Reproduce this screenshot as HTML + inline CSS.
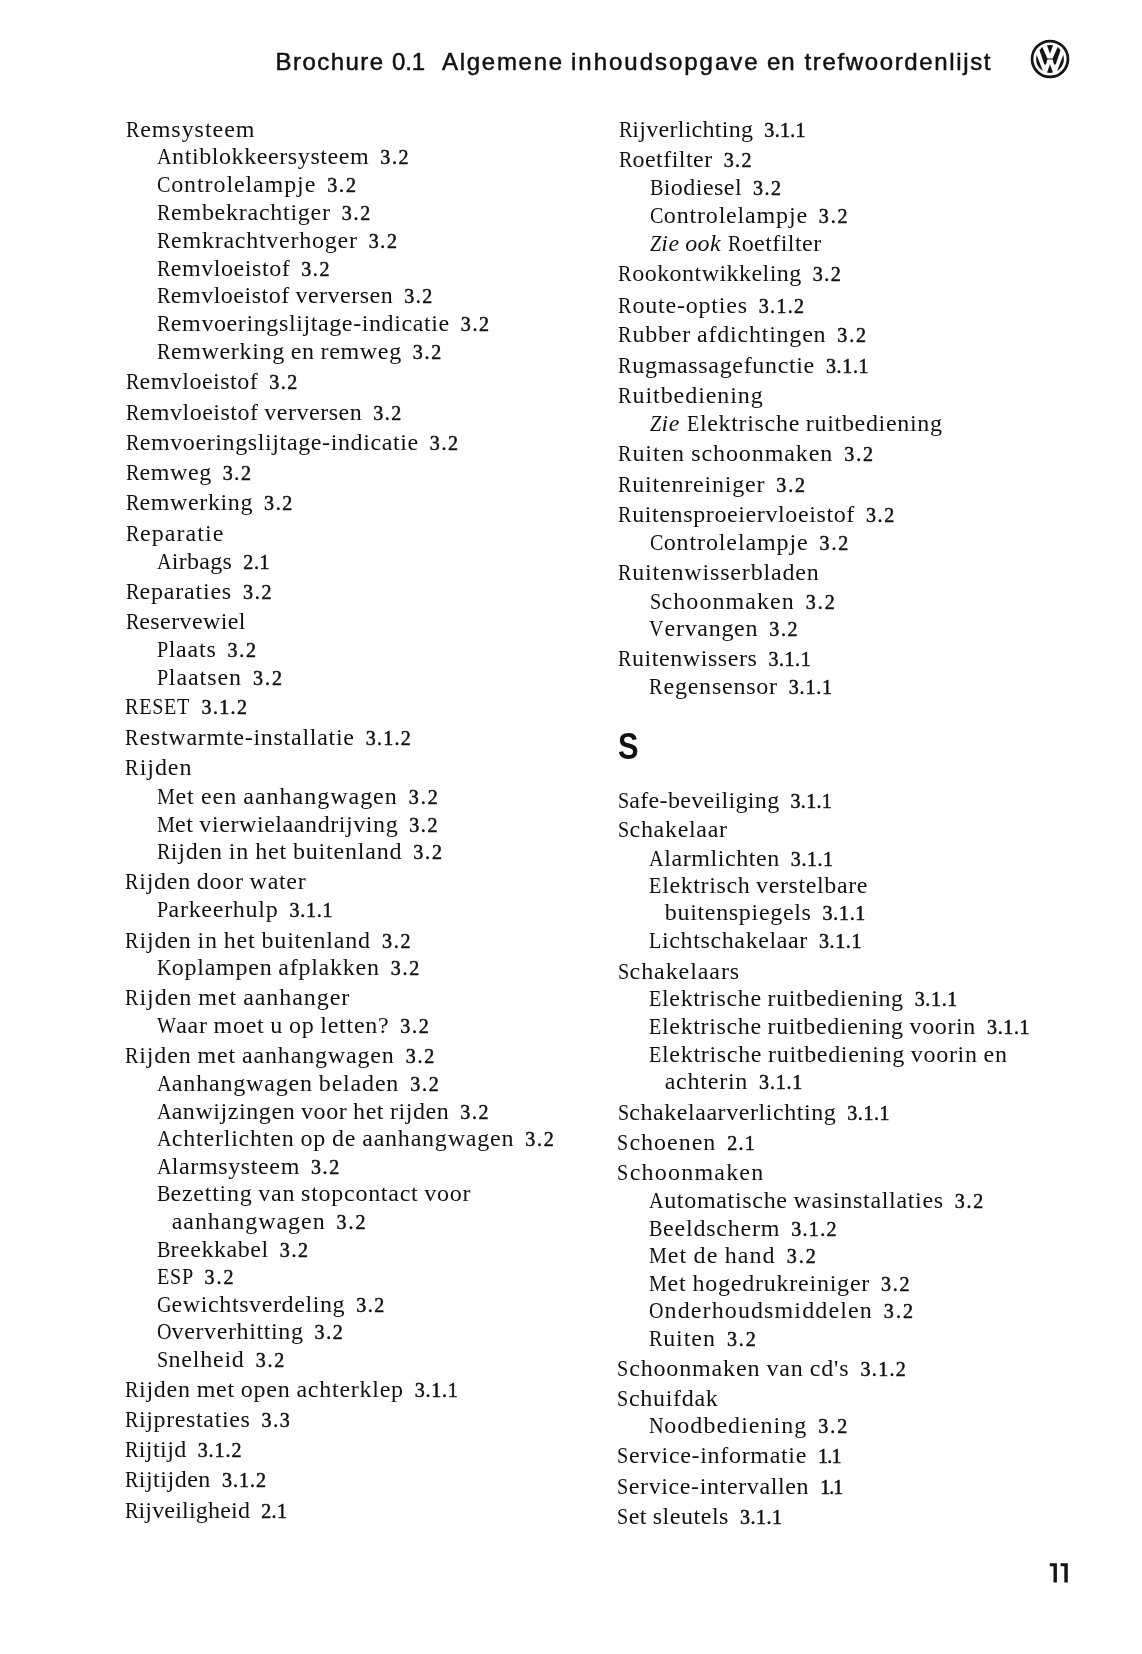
<!DOCTYPE html>
<html><head><meta charset="utf-8">
<style>
html,body{margin:0;padding:0;background:#fff;}
body{width:1142px;height:1654px;position:relative;overflow:hidden;font-family:"Liberation Serif",serif;color:#111;}
.l{position:absolute;white-space:nowrap;font-size:24px;line-height:28px;height:28px;word-spacing:-0.8px;}
.l b{font-weight:normal;display:inline-block;transform:scaleX(0.84);transform-origin:0 50%;}
.l .n{margin-left:11px;font-size:20px;word-spacing:0;-webkit-text-stroke:0.5px #111;}
.l i{margin-right:1px;}
.h{position:absolute;white-space:nowrap;font-family:"Liberation Sans",sans-serif;font-size:24px;line-height:30px;top:46.5px;-webkit-text-stroke:0.5px #111;}
.S{position:absolute;left:617.6px;top:723.9px;font-family:"Liberation Sans",sans-serif;font-weight:bold;font-size:37.5px;line-height:44px;transform:scaleX(0.82);transform-origin:0 0;}
.pn{position:absolute;left:1040px;top:1555px;width:40px;height:36px;}
.logo{position:absolute;left:1030.4px;top:38.5px;width:40px;height:40px;}
#pg{position:absolute;left:0;top:0;width:1142px;height:1654px;background:#fff;filter:grayscale(1) blur(0.35px);}
</style></head><body><div id="pg">
<div class="h" id="h0" style="left:275.50px;letter-spacing:1.457px">Brochure</div>
<div class="h" id="h1" style="left:392.00px;letter-spacing:-0.100px">0.1</div>
<div class="h" id="h2" style="left:442.00px;letter-spacing:1.714px">Algemene</div>
<div class="h" id="h3" style="left:571.00px;letter-spacing:1.983px">inhoudsopgave</div>
<div class="h" id="h4" style="left:767.00px;letter-spacing:0.800px">en</div>
<div class="h" id="h5" style="left:804.50px;letter-spacing:1.640px">trefwoordenlijst</div>
<svg class="logo" viewBox="-20 -20 40 40">
<defs><clipPath id="ci"><circle cx="0" cy="0" r="13.9"/></clipPath></defs>
<circle cx="0" cy="0" r="17.95" fill="none" stroke="#151515" stroke-width="2.75"/>
<g clip-path="url(#ci)" fill="#151515">
<path d="M-3.5,-15 L3.5,-15 L0,-5.2 Z"/>
<path d="M0,5.3 L3.5,15 L-3.5,15 Z"/>
<path d="M-11.8,-12.5 L-8.5,-14 L-2.6,-0.6 L2.6,-0.6 L8.5,-14 L11.8,-12.5 L5.7,5.4 L4.1,5.4 L2.6,0.5 L-2.6,0.5 L-4.1,5.4 L-5.7,5.4 Z"/>
<path d="M-13.3,-4 L-6.5,13.5 L-17,13.5 L-17,-4 Z"/>
<path d="M13.3,-4 L6.5,13.5 L17,13.5 L17,-4 Z"/>
</g>
</svg>
<div class="S">S</div>
<svg class="pn" viewBox="1040 1555 40 36"><path fill="#151515" d="M1053.5,1563.2h3.4v19.2h-3.4z M1049.8,1563.2h4v3.1h-4z M1064.3,1563.2h3.5v19.2h-3.5z M1060.6,1563.2h4v3.1h-4z"/></svg>
<div class="l" id="l0_0" style="left:125.9px;top:115.10px;letter-spacing:0.956px"><b style="margin-right:-2.72px">R</b>emsysteem</div>
<div class="l" id="l0_1" style="left:157.0px;top:142.20px;letter-spacing:0.590px"><b style="margin-right:-2.87px">A</b>ntiblokkeersysteem<span class="n" style="letter-spacing:1.590px">3.2</span></div>
<div class="l" id="l0_2" style="left:157.0px;top:170.20px;letter-spacing:0.900px"><b style="margin-right:-2.71px">C</b>ontrolelampje<span class="n" style="letter-spacing:1.900px">3.2</span></div>
<div class="l" id="l0_3" style="left:157.0px;top:197.80px;letter-spacing:0.741px"><b style="margin-right:-2.68px">R</b>embekrachtiger<span class="n" style="letter-spacing:1.741px">3.2</span></div>
<div class="l" id="l0_4" style="left:157.0px;top:225.80px;letter-spacing:0.747px"><b style="margin-right:-2.68px">R</b>emkrachtverhoger<span class="n" style="letter-spacing:1.747px">3.2</span></div>
<div class="l" id="l0_5" style="left:156.9px;top:253.80px;letter-spacing:0.557px"><b style="margin-right:-2.65px">R</b>emvloeistof<span class="n" style="letter-spacing:1.557px">3.2</span></div>
<div class="l" id="l0_6" style="left:156.9px;top:281.40px;letter-spacing:0.508px"><b style="margin-right:-2.64px">R</b>emvloeistof verversen<span class="n" style="letter-spacing:1.508px">3.2</span></div>
<div class="l" id="l0_7" style="left:156.9px;top:309.00px;letter-spacing:0.607px"><b style="margin-right:-2.66px">R</b>emvoeringslijtage-indicatie<span class="n" style="letter-spacing:1.607px">3.2</span></div>
<div class="l" id="l0_8" style="left:156.9px;top:336.75px;letter-spacing:0.664px"><b style="margin-right:-2.67px">R</b>emwerking en remweg<span class="n" style="letter-spacing:1.664px">3.2</span></div>
<div class="l" id="l0_9" style="left:125.7px;top:366.95px;letter-spacing:0.486px"><b style="margin-right:-2.64px">R</b>emvloeistof<span class="n" style="letter-spacing:1.486px">3.2</span></div>
<div class="l" id="l0_10" style="left:125.7px;top:397.65px;letter-spacing:0.517px"><b style="margin-right:-2.65px">R</b>emvloeistof verversen<span class="n" style="letter-spacing:1.517px">3.2</span></div>
<div class="l" id="l0_11" style="left:125.7px;top:427.75px;letter-spacing:0.613px"><b style="margin-right:-2.66px">R</b>emvoeringslijtage-indicatie<span class="n" style="letter-spacing:1.613px">3.2</span></div>
<div class="l" id="l0_12" style="left:125.6px;top:457.55px;letter-spacing:0.575px"><b style="margin-right:-2.65px">R</b>emweg<span class="n" style="letter-spacing:1.575px">3.2</span></div>
<div class="l" id="l0_13" style="left:125.6px;top:487.90px;letter-spacing:0.617px"><b style="margin-right:-2.66px">R</b>emwerking<span class="n" style="letter-spacing:1.617px">3.2</span></div>
<div class="l" id="l0_14" style="left:125.6px;top:518.70px;letter-spacing:1.075px"><b style="margin-right:-2.73px">R</b>eparatie</div>
<div class="l" id="l0_15" style="left:156.8px;top:546.70px;letter-spacing:0.333px"><b style="margin-right:-2.83px">A</b>irbags<span class="n" style="letter-spacing:0.583px">2.1</span></div>
<div class="l" id="l0_16" style="left:125.5px;top:577.15px;letter-spacing:0.783px"><b style="margin-right:-2.69px">R</b>eparaties<span class="n" style="letter-spacing:1.783px">3.2</span></div>
<div class="l" id="l0_17" style="left:125.5px;top:607.05px;letter-spacing:0.400px"><b style="margin-right:-2.63px">R</b>eservewiel</div>
<div class="l" id="l0_18" style="left:156.8px;top:634.95px;letter-spacing:0.775px"><b style="margin-right:-2.26px">P</b>laats<span class="n" style="letter-spacing:1.775px">3.2</span></div>
<div class="l" id="l0_19" style="left:156.8px;top:662.55px;letter-spacing:0.940px"><b style="margin-right:-2.29px">P</b>laatsen<span class="n" style="letter-spacing:1.940px">3.2</span></div>
<div class="l" id="l0_20" style="left:125.4px;top:692.25px;letter-spacing:0.844px"><b style="margin-right:-12.41px">RESET</b><span class="n" style="letter-spacing:1.344px">3.1.2</span></div>
<div class="l" id="l0_21" style="left:125.4px;top:723.20px;letter-spacing:0.731px"><b style="margin-right:-2.68px">R</b>estwarmte-installatie<span class="n" style="letter-spacing:1.231px">3.1.2</span></div>
<div class="l" id="l0_22" style="left:125.4px;top:753.15px;letter-spacing:0.960px"><b style="margin-right:-2.72px">R</b>ijden</div>
<div class="l" id="l0_23" style="left:156.7px;top:781.60px;letter-spacing:0.982px"><b style="margin-right:-3.57px">M</b>et een aanhangwagen<span class="n" style="letter-spacing:1.982px">3.2</span></div>
<div class="l" id="l0_24" style="left:156.7px;top:809.65px;letter-spacing:0.576px"><b style="margin-right:-3.51px">M</b>et vierwielaandrijving<span class="n" style="letter-spacing:1.576px">3.2</span></div>
<div class="l" id="l0_25" style="left:156.7px;top:836.75px;letter-spacing:0.808px"><b style="margin-right:-2.69px">R</b>ijden in het buitenland<span class="n" style="letter-spacing:1.808px">3.2</span></div>
<div class="l" id="l0_26" style="left:125.3px;top:867.20px;letter-spacing:0.713px"><b style="margin-right:-2.68px">R</b>ijden door water</div>
<div class="l" id="l0_27" style="left:156.7px;top:895.20px;letter-spacing:0.733px"><b style="margin-right:-2.25px">P</b>arkeerhulp<span class="n" style="letter-spacing:0.733px">3.1.1</span></div>
<div class="l" id="l0_28" style="left:125.3px;top:925.50px;letter-spacing:0.808px"><b style="margin-right:-2.69px">R</b>ijden in het buitenland<span class="n" style="letter-spacing:1.808px">3.2</span></div>
<div class="l" id="l0_29" style="left:156.6px;top:953.30px;letter-spacing:0.743px"><b style="margin-right:-2.89px">K</b>oplampen afplakken<span class="n" style="letter-spacing:1.743px">3.2</span></div>
<div class="l" id="l0_30" style="left:125.2px;top:983.10px;letter-spacing:0.937px"><b style="margin-right:-2.71px">R</b>ijden met aanhanger</div>
<div class="l" id="l0_31" style="left:156.6px;top:1010.90px;letter-spacing:0.717px"><b style="margin-right:-3.74px">W</b>aar moet u op letten?<span class="n" style="letter-spacing:1.717px">3.2</span></div>
<div class="l" id="l0_32" style="left:125.2px;top:1041.10px;letter-spacing:0.832px"><b style="margin-right:-2.70px">R</b>ijden met aanhangwagen<span class="n" style="letter-spacing:1.832px">3.2</span></div>
<div class="l" id="l0_33" style="left:156.6px;top:1068.50px;letter-spacing:0.818px"><b style="margin-right:-2.90px">A</b>anhangwagen beladen<span class="n" style="letter-spacing:1.818px">3.2</span></div>
<div class="l" id="l0_34" style="left:156.6px;top:1096.60px;letter-spacing:0.573px"><b style="margin-right:-2.86px">A</b>anwijzingen voor het rijden<span class="n" style="letter-spacing:1.573px">3.2</span></div>
<div class="l" id="l0_35" style="left:156.6px;top:1124.40px;letter-spacing:0.782px"><b style="margin-right:-2.90px">A</b>chterlichten op de aanhangwagen<span class="n" style="letter-spacing:1.782px">3.2</span></div>
<div class="l" id="l0_36" style="left:156.6px;top:1151.70px;letter-spacing:0.629px"><b style="margin-right:-2.87px">A</b>larmsysteem<span class="n" style="letter-spacing:1.629px">3.2</span></div>
<div class="l" id="l0_37" style="left:156.5px;top:1179.30px;letter-spacing:0.731px"><b style="margin-right:-2.68px">B</b>ezetting van stopcontact voor</div>
<div class="l" id="l0_38" style="left:171.7px;top:1206.90px;letter-spacing:0.943px">aanhangwagen<span class="n" style="letter-spacing:1.943px">3.2</span></div>
<div class="l" id="l0_39" style="left:156.5px;top:1234.50px;letter-spacing:0.567px"><b style="margin-right:-2.65px">B</b>reekkabel<span class="n" style="letter-spacing:1.567px">3.2</span></div>
<div class="l" id="l0_40" style="left:156.5px;top:1261.60px;letter-spacing:0.920px"><b style="margin-right:-7.06px">ESP</b><span class="n" style="letter-spacing:1.920px">3.2</span></div>
<div class="l" id="l0_41" style="left:156.5px;top:1289.70px;letter-spacing:0.600px"><b style="margin-right:-2.87px">G</b>ewichtsverdeling<span class="n" style="letter-spacing:1.600px">3.2</span></div>
<div class="l" id="l0_42" style="left:156.5px;top:1316.90px;letter-spacing:0.613px"><b style="margin-right:-2.87px">O</b>ververhitting<span class="n" style="letter-spacing:1.613px">3.2</span></div>
<div class="l" id="l0_43" style="left:156.5px;top:1344.60px;letter-spacing:0.800px"><b style="margin-right:-2.26px">S</b>nelheid<span class="n" style="letter-spacing:1.800px">3.2</span></div>
<div class="l" id="l0_44" style="left:124.9px;top:1374.90px;letter-spacing:0.747px"><b style="margin-right:-2.68px">R</b>ijden met open achterklep<span class="n" style="letter-spacing:0.747px">3.1.1</span></div>
<div class="l" id="l0_45" style="left:124.9px;top:1405.40px;letter-spacing:0.640px"><b style="margin-right:-2.66px">R</b>ijprestaties<span class="n" style="letter-spacing:1.640px">3.3</span></div>
<div class="l" id="l0_46" style="left:124.9px;top:1435.10px;letter-spacing:0.436px"><b style="margin-right:-2.63px">R</b>ijtijd<span class="n" style="letter-spacing:0.936px">3.1.2</span></div>
<div class="l" id="l0_47" style="left:124.8px;top:1464.90px;letter-spacing:0.523px"><b style="margin-right:-2.65px">R</b>ijtijden<span class="n" style="letter-spacing:1.023px">3.1.2</span></div>
<div class="l" id="l0_48" style="left:124.8px;top:1495.50px;letter-spacing:0.200px"><b style="margin-right:-2.59px">R</b>ijveiligheid<span class="n" style="letter-spacing:0.450px">2.1</span></div>
<div class="l" id="l1_0" style="left:618.6px;top:115.10px;letter-spacing:0.289px"><b style="margin-right:-2.61px">R</b>ijverlichting<span class="n" style="letter-spacing:0.289px">3.1.1</span></div>
<div class="l" id="l1_1" style="left:618.6px;top:144.90px;letter-spacing:0.467px"><b style="margin-right:-2.64px">R</b>oetfilter<span class="n" style="letter-spacing:1.467px">3.2</span></div>
<div class="l" id="l1_2" style="left:649.8px;top:172.50px;letter-spacing:0.473px"><b style="margin-right:-2.64px">B</b>iodiesel<span class="n" style="letter-spacing:1.473px">3.2</span></div>
<div class="l" id="l1_3" style="left:649.7px;top:200.60px;letter-spacing:0.825px"><b style="margin-right:-2.69px">C</b>ontrolelampje<span class="n" style="letter-spacing:1.825px">3.2</span></div>
<div class="l" id="l1_4" style="left:649.7px;top:228.85px;letter-spacing:0.447px"><i><b style="margin-right:-2.21px">Z</b>ie ook</i> <b style="margin-right:-2.63px">R</b>oetfilter</div>
<div class="l" id="l1_5" style="left:618.4px;top:259.45px;letter-spacing:0.456px"><b style="margin-right:-2.64px">R</b>ookontwikkeling<span class="n" style="letter-spacing:1.456px">3.2</span></div>
<div class="l" id="l1_6" style="left:618.4px;top:290.60px;letter-spacing:0.788px"><b style="margin-right:-2.69px">R</b>oute-opties<span class="n" style="letter-spacing:1.288px">3.1.2</span></div>
<div class="l" id="l1_7" style="left:618.4px;top:320.10px;letter-spacing:0.781px"><b style="margin-right:-2.69px">R</b>ubber afdichtingen<span class="n" style="letter-spacing:1.781px">3.2</span></div>
<div class="l" id="l1_8" style="left:618.3px;top:350.55px;letter-spacing:0.667px"><b style="margin-right:-2.67px">R</b>ugmassagefunctie<span class="n" style="letter-spacing:0.667px">3.1.1</span></div>
<div class="l" id="l1_9" style="left:618.3px;top:381.20px;letter-spacing:0.933px"><b style="margin-right:-2.71px">R</b>uitbediening</div>
<div class="l" id="l1_10" style="left:649.6px;top:408.75px;letter-spacing:0.679px"><i><b style="margin-right:-2.24px">Z</b>ie</i> <b style="margin-right:-2.45px">E</b>lektrische ruitbediening</div>
<div class="l" id="l1_11" style="left:618.2px;top:439.40px;letter-spacing:0.920px"><b style="margin-right:-2.71px">R</b>uiten schoonmaken<span class="n" style="letter-spacing:1.920px">3.2</span></div>
<div class="l" id="l1_12" style="left:618.2px;top:469.90px;letter-spacing:0.800px"><b style="margin-right:-2.69px">R</b>uitenreiniger<span class="n" style="letter-spacing:1.800px">3.2</span></div>
<div class="l" id="l1_13" style="left:618.2px;top:500.00px;letter-spacing:0.616px"><b style="margin-right:-2.66px">R</b>uitensproeiervloeistof<span class="n" style="letter-spacing:1.616px">3.2</span></div>
<div class="l" id="l1_14" style="left:649.5px;top:527.85px;letter-spacing:0.887px"><b style="margin-right:-2.70px">C</b>ontrolelampje<span class="n" style="letter-spacing:1.887px">3.2</span></div>
<div class="l" id="l1_15" style="left:618.1px;top:558.45px;letter-spacing:0.824px"><b style="margin-right:-2.69px">R</b>uitenwisserbladen</div>
<div class="l" id="l1_16" style="left:649.5px;top:586.50px;letter-spacing:1.046px"><b style="margin-right:-2.30px">S</b>choonmaken<span class="n" style="letter-spacing:2.046px">3.2</span></div>
<div class="l" id="l1_17" style="left:649.4px;top:613.90px;letter-spacing:0.709px"><b style="margin-right:-2.89px">V</b>ervangen<span class="n" style="letter-spacing:1.709px">3.2</span></div>
<div class="l" id="l1_18" style="left:618.0px;top:643.85px;letter-spacing:0.565px"><b style="margin-right:-2.65px">R</b>uitenwissers<span class="n" style="letter-spacing:0.565px">3.1.1</span></div>
<div class="l" id="l1_19" style="left:649.4px;top:671.85px;letter-spacing:0.773px"><b style="margin-right:-2.69px">R</b>egensensor<span class="n" style="letter-spacing:0.773px">3.1.1</span></div>
<div class="l" id="l1_20" style="left:617.8px;top:786.15px;letter-spacing:0.330px"><b style="margin-right:-2.19px">S</b>afe-beveiliging<span class="n" style="letter-spacing:0.330px">3.1.1</span></div>
<div class="l" id="l1_21" style="left:617.8px;top:815.45px;letter-spacing:0.689px"><b style="margin-right:-2.25px">S</b>chakelaar</div>
<div class="l" id="l1_22" style="left:649.3px;top:843.70px;letter-spacing:0.562px"><b style="margin-right:-2.86px">A</b>larmlichten<span class="n" style="letter-spacing:0.562px">3.1.1</span></div>
<div class="l" id="l1_23" style="left:649.3px;top:870.70px;letter-spacing:0.610px"><b style="margin-right:-2.44px">E</b>lektrisch verstelbare</div>
<div class="l" id="l1_24" style="left:664.8px;top:898.40px;letter-spacing:0.678px">buitenspiegels<span class="n" style="letter-spacing:0.678px">3.1.1</span></div>
<div class="l" id="l1_25" style="left:649.2px;top:926.25px;letter-spacing:0.621px"><b style="margin-right:-2.44px">L</b>ichtschakelaar<span class="n" style="letter-spacing:0.621px">3.1.1</span></div>
<div class="l" id="l1_26" style="left:617.6px;top:956.85px;letter-spacing:0.920px"><b style="margin-right:-2.28px">S</b>chakelaars</div>
<div class="l" id="l1_27" style="left:649.2px;top:984.45px;letter-spacing:0.634px"><b style="margin-right:-2.45px">E</b>lektrische ruitbediening<span class="n" style="letter-spacing:0.634px">3.1.1</span></div>
<div class="l" id="l1_28" style="left:649.2px;top:1012.20px;letter-spacing:0.633px"><b style="margin-right:-2.45px">E</b>lektrische ruitbediening voorin<span class="n" style="letter-spacing:0.633px">3.1.1</span></div>
<div class="l" id="l1_29" style="left:649.1px;top:1039.80px;letter-spacing:0.688px"><b style="margin-right:-2.46px">E</b>lektrische ruitbediening voorin en</div>
<div class="l" id="l1_30" style="left:664.7px;top:1067.40px;letter-spacing:0.767px">achterin<span class="n" style="letter-spacing:0.767px">3.1.1</span></div>
<div class="l" id="l1_31" style="left:617.5px;top:1097.60px;letter-spacing:0.560px"><b style="margin-right:-2.22px">S</b>chakelaarverlichting<span class="n" style="letter-spacing:0.560px">3.1.1</span></div>
<div class="l" id="l1_32" style="left:617.4px;top:1127.70px;letter-spacing:0.980px"><b style="margin-right:-2.29px">S</b>choenen<span class="n" style="letter-spacing:1.230px">2.1</span></div>
<div class="l" id="l1_33" style="left:617.4px;top:1158.25px;letter-spacing:1.220px"><b style="margin-right:-2.33px">S</b>choonmaken</div>
<div class="l" id="l1_34" style="left:649.0px;top:1185.90px;letter-spacing:0.687px"><b style="margin-right:-2.88px">A</b>utomatische wasinstallaties<span class="n" style="letter-spacing:1.687px">3.2</span></div>
<div class="l" id="l1_35" style="left:649.0px;top:1213.60px;letter-spacing:0.787px"><b style="margin-right:-2.69px">B</b>eeldscherm<span class="n" style="letter-spacing:1.287px">3.1.2</span></div>
<div class="l" id="l1_36" style="left:649.0px;top:1241.10px;letter-spacing:1.077px"><b style="margin-right:-3.59px">M</b>et de hand<span class="n" style="letter-spacing:2.077px">3.2</span></div>
<div class="l" id="l1_37" style="left:649.0px;top:1269.10px;letter-spacing:0.773px"><b style="margin-right:-3.54px">M</b>et hogedrukreiniger<span class="n" style="letter-spacing:1.773px">3.2</span></div>
<div class="l" id="l1_38" style="left:649.0px;top:1296.20px;letter-spacing:1.120px"><b style="margin-right:-2.95px">O</b>nderhoudsmiddelen<span class="n" style="letter-spacing:2.120px">3.2</span></div>
<div class="l" id="l1_39" style="left:648.9px;top:1323.70px;letter-spacing:0.950px"><b style="margin-right:-2.71px">R</b>uiten<span class="n" style="letter-spacing:1.950px">3.2</span></div>
<div class="l" id="l1_40" style="left:617.2px;top:1353.60px;letter-spacing:0.858px"><b style="margin-right:-2.27px">S</b>choonmaken van cd's<span class="n" style="letter-spacing:1.358px">3.1.2</span></div>
<div class="l" id="l1_41" style="left:617.1px;top:1383.75px;letter-spacing:0.700px"><b style="margin-right:-2.25px">S</b>chuifdak</div>
<div class="l" id="l1_42" style="left:648.9px;top:1410.50px;letter-spacing:1.027px"><b style="margin-right:-2.94px">N</b>oodbediening<span class="n" style="letter-spacing:2.027px">3.2</span></div>
<div class="l" id="l1_43" style="left:617.1px;top:1441.40px;letter-spacing:0.680px"><b style="margin-right:-2.24px">S</b>ervice-informatie<span class="n" style="letter-spacing:-0.820px">1.1</span></div>
<div class="l" id="l1_44" style="left:617.0px;top:1472.05px;letter-spacing:0.619px"><b style="margin-right:-2.23px">S</b>ervice-intervallen<span class="n" style="letter-spacing:-0.881px">1.1</span></div>
<div class="l" id="l1_45" style="left:617.0px;top:1501.70px;letter-spacing:0.525px"><b style="margin-right:-2.22px">S</b>et sleutels<span class="n" style="letter-spacing:0.525px">3.1.1</span></div>
</div></body></html>
